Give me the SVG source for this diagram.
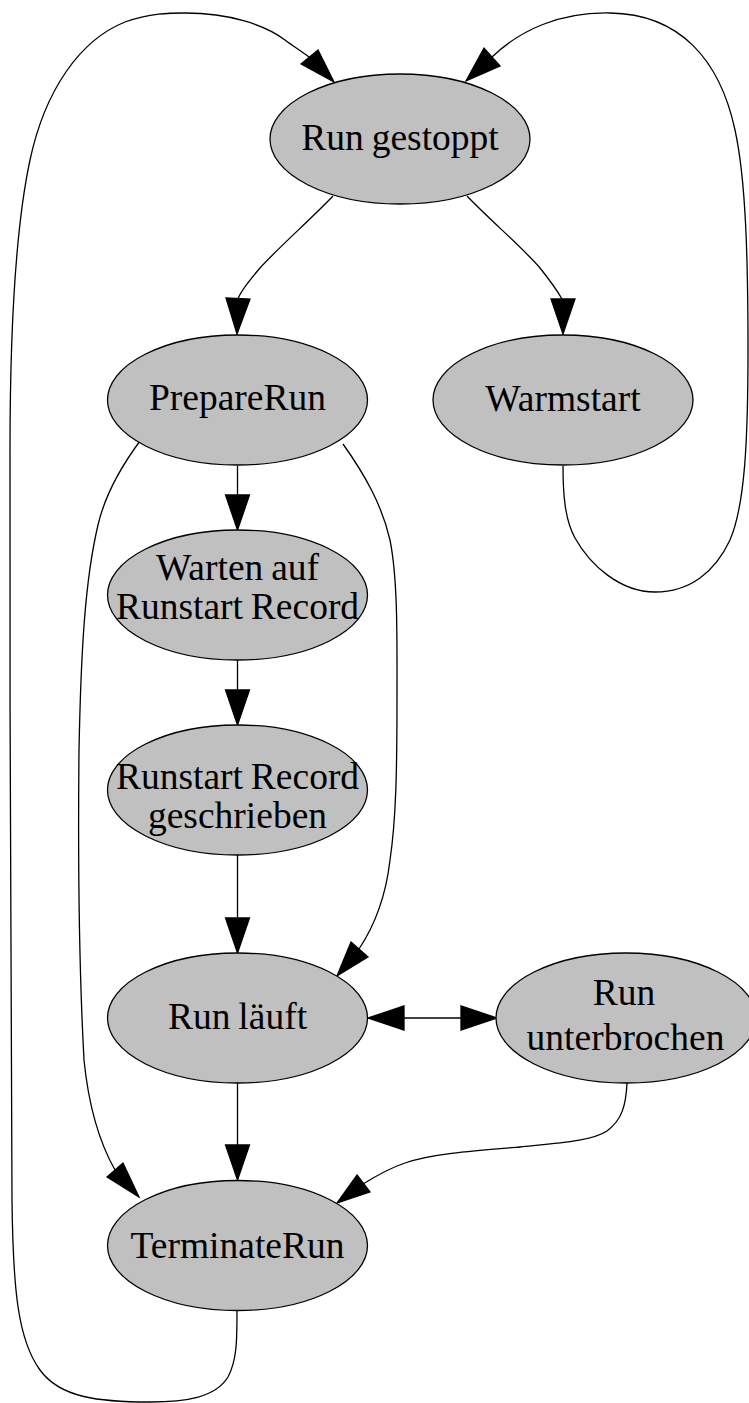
<svg xmlns="http://www.w3.org/2000/svg" width="749" height="1403" viewBox="0 0 749 1403">
<style>
.n ellipse{fill:#c0c0c0;stroke:#000;stroke-width:1.3}
.n text{font-family:"Liberation Serif","Times New Roman",serif;font-size:37.5px;fill:#000;text-anchor:middle;word-spacing:-1.5px}
.e path{fill:none;stroke:#000;stroke-width:1.3}
.e polygon{fill:#000;stroke:#000;stroke-width:1.3}
</style>
<rect width="749" height="1403" fill="#fff"/>
<g id="connectors" class="e">
  <!-- Run gestoppt -> PrepareRun -->
  <path d="M333,196 C310,220 278,248 260,268 C248,282 240,292 238,299"/>
  <polygon points="226,298 250,299 237,334"/>
  <!-- Run gestoppt -> Warmstart -->
  <path d="M467,196 C490,220 525,250 540,268 C552,283 558,292 562,299"/>
  <polygon points="551,299 575,299 563,334"/>
  <!-- Warmstart -> Run gestoppt -->
  <path d="M563,466 C563,495 565,520 575,538 C590,565 620,592 655,592 C690,592 715,572 730,540 C745,505 748,440 748,350 C748,260 746,180 735,130 C720,60 680,14 610,13 C560,12 520,30 492,57"/>
  <polygon points="500,66 484,48 466,81"/>
  <!-- PrepareRun -> Warten -->
  <path d="M237.5,466 L237.5,495"/>
  <polygon points="225.5,495 249.5,495 237.5,530"/>
  <!-- Warten -> Runstart geschrieben -->
  <path d="M237.5,660 L237.5,690"/>
  <polygon points="225.5,690 249.5,690 237.5,725"/>
  <!-- Runstart geschrieben -> Run laeuft -->
  <path d="M237.5,855 L237.5,918"/>
  <polygon points="225.5,918 249.5,918 237.5,953"/>
  <!-- PrepareRun -> Run laeuft -->
  <path d="M343,444 C365,475 382,505 390,540 C398,580 397,640 397,700 C397,770 396,820 390,860 C386,895 375,925 359,949"/>
  <polygon points="351,942 368,957 337,976"/>
  <!-- PrepareRun -> TerminateRun -->
  <path d="M140,441 C120,468 105,495 98,525 C85,580 81,650 79,750 C78,850 78,950 84,1060 C88,1100 98,1140 115,1170"/>
  <polygon points="107,1177 123,1163 139,1197"/>
  <!-- Run laeuft -> TerminateRun -->
  <path d="M237.5,1083 L237.5,1145"/>
  <polygon points="225.5,1145 249.5,1145 237.5,1180"/>
  <!-- Run laeuft <-> Run unterbrochen -->
  <path d="M404,1018 L461,1018"/>
  <polygon points="404,1006 404,1030 368,1018"/>
  <polygon points="461,1006 461,1030 497,1018"/>
  <!-- Run unterbrochen -> TerminateRun -->
  <path d="M627,1083 C626,1105 622,1120 607,1131 C592,1141 560,1143 520,1147 C470,1151 430,1154 405,1163 C390,1168 376,1176 363,1184"/>
  <polygon points="357,1175 370,1192 337,1203"/>
  <!-- TerminateRun -> Run gestoppt -->
  <path d="M237,1311 C237,1340 237,1360 228,1377 C215,1398 185,1402 150,1402 C100,1402 60,1398 40,1370 C18,1340 13,1290 12,1200 C10,1000 10,700 10,450 C10,330 15,230 30,160 C45,90 80,40 125,22 C150,13 170,13 185,13 C230,13 265,25 285,40 C293,46 301,51 309,57"/>
  <polygon points="301,64 318,50 334,82"/>
</g>
<g id="run_gestoppt" class="n">
  <ellipse cx="400" cy="139" rx="130" ry="65"/>
  <text x="400" y="150">Run gestoppt</text>
</g>
<g id="prepare_run" class="n">
  <ellipse cx="237.5" cy="400" rx="130" ry="65"/>
  <text x="237.5" y="410">PrepareRun</text>
</g>
<g id="warmstart" class="n">
  <ellipse cx="563" cy="400" rx="130" ry="65"/>
  <text x="563" y="411">Warmstart</text>
</g>
<g id="warten" class="n">
  <ellipse cx="237.5" cy="595" rx="130" ry="65"/>
  <text x="237.5" y="580">Warten auf</text>
  <text x="237.5" y="619">Runstart Record</text>
</g>
<g id="runstart_geschrieben" class="n">
  <ellipse cx="237.5" cy="790" rx="130" ry="65"/>
  <text x="237.5" y="789">Runstart Record</text>
  <text x="237.5" y="828">geschrieben</text>
</g>
<g id="run_laeuft" class="n">
  <ellipse cx="237.5" cy="1018" rx="130" ry="65"/>
  <text x="237.5" y="1029">Run läuft</text>
</g>
<g id="run_unterbrochen" class="n">
  <ellipse cx="626" cy="1018" rx="130" ry="65"/>
  <text x="624" y="1005">Run</text>
  <text x="625.5" y="1050">unterbrochen</text>
</g>
<g id="terminate_run" class="n">
  <ellipse cx="237.5" cy="1245.5" rx="130" ry="65"/>
  <text x="237.5" y="1258">TerminateRun</text>
</g>
</svg>
